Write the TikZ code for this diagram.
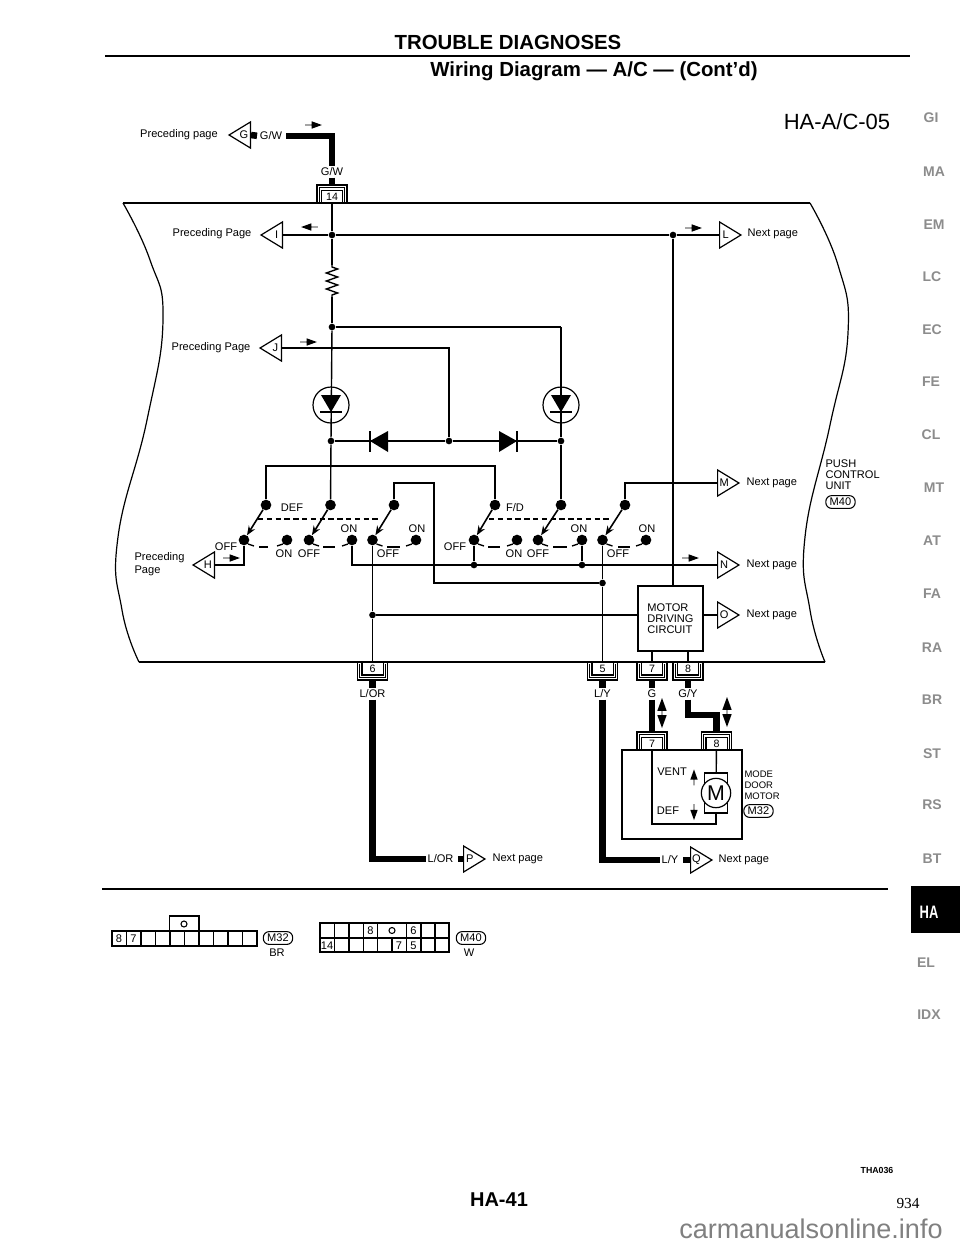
\documentclass[tikz,border=0pt]{standalone}
\usepackage{fontspec}
\usepackage{graphicx}
\setmainfont{Liberation Sans}
\usetikzlibrary{arrows.meta,calc,shapes.geometric,shapes.arrows,decorations.pathmorphing}

\tikzset{
	lbl/.style={font=\fontsize{8.3}{9}\selectfont, inner sep=1pt},
	wire/.style={line width=1.05pt},
	thickwire/.style={line width=4.9pt, line join=miter},
	flag/.style={draw, line width=0.9pt, isosceles triangle, isosceles triangle stretches, isosceles triangle apex angle=70,
		inner sep=0pt, minimum width=19.5pt, minimum height=16pt, font=\fontsize{8.3}{9}\selectfont, anchor=lower side},
	nextflag/.style={flag},
	backflag/.style={flag, shape border rotate=180},
	junction/.style={circle, fill=black, inner sep=0pt, minimum size=5pt},
	contact/.style={circle, fill=black, inner sep=0pt, minimum size=8pt},
	blade/.style={line width=1.2pt, -{Stealth[length=7pt,width=5.5pt]}},
	flowmark/.style={single arrow, fill=black, inner sep=0pt, minimum height=12.5pt, minimum width=5.6pt,
		single arrow head extend=1.7pt, single arrow tip angle=40},
	updown/.style={double arrow, fill=black, inner sep=0pt, rotate=90, minimum height=22.5pt, minimum width=7pt,
		double arrow head extend=2pt, double arrow tip angle=40},
	pinbox/.style={draw, line width=0.8pt, inner sep=0pt, minimum width=15.8pt, minimum height=9.7pt, font=\fontsize{8}{9}\selectfont},
	ovalid/.style={draw, line width=0.8pt, rounded corners=4.4pt, inner sep=0pt, minimum width=22pt, minimum height=9.6pt, font=\fontsize{8.3}{9}\selectfont},
	sidelbl/.style={font=\fontsize{10.5}{11}\bfseries\selectfont, text=black!45, inner sep=0pt},
}

% connector: name, x, y, text, side of the double bracket (1 above, -1 below)
\newcommand{\pinblock}[5]{
	\node (#1)[pinbox] at (#2,#3) {#4};
	\draw[line width=0.8pt, shift={(#2,#3)}, yscale=#5] (-15,6.5) -- (-15,-11.5) -- (15,-11.5) -- (15,6.5);
	\draw[line width=0.8pt, shift={(#2,#3)}, yscale=#5] (-12.8,5) -- (-12.8,-9.2) -- (12.8,-9.2) -- (12.8,5);
}
% diode in a circle
\newcommand{\lampmark}[3]{
	\node (#1)[draw, circle, line width=0.9pt, inner sep=0pt, minimum size=27pt] at (#2,#3) {};
	\fill[shift={(#2,#3)}] (-10,-10) -- (10,-10) -- (0,7) -- cycle;
	\draw[wire, shift={(#2,#3)}] (-11,7) -- (11,7);
}
\newcommand{\offtick}[1]{\draw[wire] (#1) ++(4,4) -- ++(6,2);}
\newcommand{\ontick}[1]{\draw[wire] (#1) ++(-4,4) -- ++(-6,2);}

\begin{document}
\begin{tikzpicture}[x=0.75pt,y=-0.75pt]
	\useasboundingbox (0,0) rectangle (960,1242);

	% page head
	\node (title)[font=\fontsize{15.3}{16}\bfseries\selectfont, inner sep=0pt] at (508,42) {TROUBLE DIAGNOSES};
	\coordinate (ruleL) at (105,56);
	\coordinate (ruleR) at (910,56);
	\draw[line width=2.2pt] (ruleL) -- (ruleR);
	\node (subtitle)[font=\fontsize{15.3}{16}\bfseries\selectfont, inner sep=0pt] at (594,71) {Wiring Diagram — A/C — (Cont'd)};
	\node (code)[font=\fontsize{16.5}{17}\selectfont, inner sep=0pt] at (837,122) {HA-A/C-05};

	% unit outline
	\draw[line width=0.9pt] plot[smooth, tension=0.8] coordinates {(123,203) (150,260) (163,320) (147,420) (118,537) (122,610) (139,662)};
	\draw[line width=0.9pt] plot[smooth, tension=0.8] coordinates {(810,203) (838,265) (848,333) (830,425) (805,537) (810,610) (825,662)};
	\coordinate (frameA) at (123,203);
	\coordinate (frameB) at (810,203);
	\coordinate (frameC) at (139,662);
	\coordinate (frameD) at (825,662);
	\draw[line width=0.9pt] (frameA) -- (frameB);
	\draw[line width=0.9pt] (frameC) -- (frameD);

	% top feed
	\node (lPrecG)[lbl] at (179,135) {Preceding page};
	\node (trG)[backflag] at (251,135) {G};
	\node (lGW)[lbl] at (271,136) {G/W};
	\node (lGWb)[lbl] at (332,172) {G/W};
	\node (flowG)[flowmark] at (313,125) {};
	\pinblock{pin14}{332}{196.5}{14}{1}
	\draw[thickwire, shorten <=2pt] (lGW.east) -| (lGWb.north);
	\draw[thickwire, shorten <=1pt] (lGW.west) -- (trG.lower side);
	\draw[thickwire, shorten >=3.7pt] (lGWb) -- (pin14.north);

	% supply rail
	\node (lPrecI)[lbl] at (212,234) {Preceding Page};
	\node (trI)[backflag] at (283,235) {I};
	\node (flowI)[flowmark, rotate=180] at (310,227) {};
	\node (jI)[junction] at (332,235) {};
	\node (jL)[junction] at (673,235) {};
	\node (flowL)[flowmark] at (693,228) {};
	\node (trL)[nextflag] at (719,235) {L};
	\node (nextL)[lbl, anchor=west] at (746,234) {Next page};
	\draw[wire] (trI.lower side) -- (jI);
	\draw[wire] (jI) -- (jL);
	\draw[wire] (jL) -- (trL.lower side);
	\draw[wire] (pin14) -- (jI);

	% resistor and lamps
	\coordinate (resT) at (332,265);
	\coordinate (resB) at (332,297);
	\node (jR)[junction] at (332,327) {};
	\coordinate (cornerR) at (561,327);
	\draw[wire] (jI) -- (resT);
	\draw[wire, decorate, decoration={zigzag, segment length=6pt, amplitude=4.2pt, pre length=1.5pt, post length=1.5pt}] (resT) -- (resB);
	\draw[wire] (resB) -- (jR);
	\draw[wire] (jR) -- (cornerR);

	\node (lPrecJ)[lbl] at (211,348) {Preceding Page};
	\node (trJ)[backflag] at (282,348) {J};
	\node (flowJ)[flowmark] at (308,342) {};

	\node (jD1)[junction] at (331,441) {};
	\node (jD2)[junction] at (449,441) {};
	\node (jD3)[junction] at (561,441) {};
	\draw[wire] (jR) -- (jD1);
	\draw[wire] (cornerR) -- (jD3);
	\lampmark{lampL}{331}{405}
	\lampmark{lampR}{561}{405}
	\draw[wire] (trJ.lower side) -| (jD2);
	\draw[wire] (jD1) -- (jD2);
	\draw[wire] (jD2) -- (jD3);

	% the two diodes
	\fill (370,441) -- (388,431) -- (388,452) -- cycle;
	\draw[wire] (370,431) -- (370,452);
	\fill (517,441) -- (499,431) -- (499,452) -- cycle;
	\draw[wire] (517,431) -- (517,452);

	% switch contacts, DEF side
	\node (s1)[contact] at (266,505) {};
	\node (s2)[contact] at (330.5,505) {};
	\node (s3)[contact] at (394,505) {};
	\node (off1)[contact] at (244,540) {};
	\node (on1)[contact] at (287,540) {};
	\node (off2)[contact] at (309,540) {};
	\node (on2)[contact] at (352,540) {};
	\node (off3)[contact] at (372.5,540) {};
	\node (on3)[contact] at (416,540) {};
	% switch contacts, F/D side
	\node (s4)[contact] at (495,505) {};
	\node (s5)[contact] at (561,505) {};
	\node (s6)[contact] at (625,505) {};
	\node (off4)[contact] at (474,540) {};
	\node (on4)[contact] at (517,540) {};
	\node (off5)[contact] at (538,540) {};
	\node (on5)[contact] at (582,540) {};
	\node (off6)[contact] at (602.5,540) {};
	\node (on6)[contact] at (646,540) {};

	\draw[blade] (s1) -- (off1);
	\draw[blade] (s2) -- (off2);
	\draw[blade] (s3) -- (off3);
	\draw[blade] (s4) -- (off4);
	\draw[blade] (s5) -- (off5);
	\draw[blade] (s6) -- (off6);

	\offtick{off1} \offtick{off2} \offtick{off3} \offtick{off4} \offtick{off5} \offtick{off6}
	\ontick{on1} \ontick{on2} \ontick{on3} \ontick{on4} \ontick{on5} \ontick{on6}

	% linkage of the switches
	\coordinate (linkA) at (258,519);
	\coordinate (linkB) at (380,519);
	\coordinate (linkC) at (489,519);
	\coordinate (linkD) at (612,519);
	\draw[wire, dashed, dash pattern=on 4pt off 2.6pt] (linkA) -- (linkB);
	\draw[wire, dashed, dash pattern=on 4pt off 2.6pt] (linkC) -- (linkD);
	\draw[wire] (259,547) -- (268,547) (323,547) -- (335,547) (387,547) -- (400,547)
		(488,547) -- (500,547) (553,547) -- (567,547) (618,547) -- (630,547);

	% wires between contacts
	\coordinate (topA) at (266,466);
	\coordinate (topB) at (495,466);
	\coordinate (loopA) at (434,483);
	\draw[wire] (s1) -- (topA) -- (topB) -- (s4);
	\draw[wire] (s2) -- (jD1);
	\draw[wire] (s5) -- (jD3);
	\node (j603)[junction] at (602.5,583) {};
	\draw[wire] (s3) |- (loopA) |- (j603);

	\node (lPrecH)[lbl, align=left, anchor=west, font=\fontsize{8.3}{9.4}\selectfont] at (133,564) {Preceding\\Page};
	\node (trH)[backflag] at (215,565) {H};
	\node (flowH)[flowmark] at (231,558) {};
	\draw[wire] (off1) |- (trH.lower side);

	\node (trM)[nextflag] at (717,483) {M};
	\node (nextM)[lbl, anchor=west] at (745,483) {Next page};
	\draw[wire] (s6) |- (trM.lower side);

	\node (trN)[nextflag] at (717,565) {N};
	\node (nextN)[lbl, anchor=west] at (745,565) {Next page};
	\node (flowN)[flowmark] at (690,558) {};
	\node (j474)[junction] at (474,565) {};
	\node (j582)[junction] at (582,565) {};
	\draw[wire] (on2) |- (trN.lower side);
	\draw[wire] (off4) -- (j474);
	\draw[wire] (on5) -- (j582);

	% motor driving circuit
	\node (mdc)[draw, line width=0.9pt, minimum width=48.75pt, minimum height=48.75pt, align=left, font=\fontsize{8.3}{8.3}\selectfont, inner sep=0pt] at (670.5,618.5) {MOTOR\\DRIVING\\CIRCUIT};
	\node (trO)[nextflag] at (717,615) {O};
	\node (nextO)[lbl, anchor=west] at (745,615) {Next page};
	\node (jP)[junction] at (372.5,615) {};
	\draw[wire] (jL) -- (jL |- mdc.north);
	\draw[wire] (jP) -- (jP -| mdc.west);
	\draw[wire] (trO.lower side) -- (trO.lower side -| mdc.east);

	\node (pushu)[lbl, align=left, anchor=west, font=\fontsize{8.3}{8.3}\selectfont] at (824,475) {PUSH\\CONTROL\\UNIT};
	\node (idM40a)[ovalid] at (840.5,502) {M40};

	% labels of the switches
	\node (lDEF)[lbl] at (292,508) {DEF};
	\node (lFD)[lbl] at (515,508) {F/D};
	\node (lOFFa)[lbl] at (226,547) {OFF};
	\node (lONa)[lbl] at (284,554) {ON};
	\node (lOFFb)[lbl] at (309,554) {OFF};
	\node (lONb)[lbl] at (349,529) {ON};
	\node (lOFFc)[lbl] at (388,554) {OFF};
	\node (lONc)[lbl] at (417,529) {ON};
	\node (lOFFd)[lbl] at (455,547) {OFF};
	\node (lONd)[lbl] at (514,554) {ON};
	\node (lOFFe)[lbl] at (538,554) {OFF};
	\node (lONe)[lbl] at (579,529) {ON};
	\node (lOFFf)[lbl] at (618,554) {OFF};
	\node (lONf)[lbl] at (647,529) {ON};

	% harness connectors of the unit
	\pinblock{pin6}{372.5}{668.5}{6}{-1}
	\pinblock{pin5}{602.5}{668.5}{5}{-1}
	\pinblock{pin7}{652}{668.5}{7}{-1}
	\pinblock{pin8}{688}{668.5}{8}{-1}
	\draw[wire] (off3) -- (jP);
	\draw[wire] (jP) -- (pin6);
	\draw[wire] (off6) -- (j603);
	\draw[wire] (j603) -- (pin5);
	\draw[wire] (pin7) -- (pin7 |- mdc.south);
	\draw[wire] (pin8) -- (pin8 |- mdc.south);

	\node (lLOR)[lbl] at (372.5,694) {L/OR};
	\node (lLY)[lbl] at (602.5,694) {L/Y};
	\node (lG)[lbl] at (652,694) {G};
	\node (lGY)[lbl] at (688,694) {G/Y};
	\draw[thickwire, shorten <=3.7pt] (pin6.south) -- (lLOR);
	\draw[thickwire, shorten <=3.7pt] (pin5.south) -- (lLY);
	\draw[thickwire, shorten <=3.7pt] (pin7.south) -- (lG);
	\draw[thickwire, shorten <=3.7pt] (pin8.south) -- (lGY);

	% harness to next page
	\node (tLOR)[lbl, anchor=west] at (426,859) {L/OR};
	\node (trP)[nextflag] at (463,859) {P};
	\node (nextP)[lbl, anchor=west] at (491,859) {Next page};
	\draw[thickwire] (lLOR) |- (tLOR);
	\draw[thickwire, shorten <=2.5pt] (tLOR.east) -- (trP.lower side);
	\node (tLY)[lbl, anchor=west] at (660,860) {L/Y};
	\node (trQ)[nextflag] at (690,860) {Q};
	\node (nextQ)[lbl, anchor=west] at (717,860) {Next page};
	\draw[thickwire] (lLY) |- (tLY);
	\draw[thickwire, shorten <=2.5pt] (tLY.east) -- (trQ.lower side);

	% mode door motor
	\pinblock{pinB7}{652}{743.5}{7}{1}
	\pinblock{pinB8}{716.5}{743.5}{8}{1}
	\coordinate (gyA) at (688,715);
	\coordinate (gyB) at (716.5,715);
	\draw[thickwire, shorten >=3pt] (lG) -- (pinB7.north);
	\draw[thickwire, shorten >=3pt] (lGY) -- (gyA) -- (gyB) -- (pinB8.north);
	\node (flowGa)[updown] at (662,713) {};
	\node (flowGb)[updown] at (727,712) {};

	\node (motorbox)[draw, line width=0.9pt, minimum width=90pt, minimum height=66.75pt, inner sep=0pt] at (682,794.5) {};
	\node (mRect)[draw, line width=0.9pt, minimum width=17pt, minimum height=30pt, inner sep=0pt] at (716,793) {};
	\node (mCirc)[draw, circle, line width=0.9pt, fill=white, minimum size=22pt, inner sep=0pt, font=\fontsize{16}{17}\selectfont] at (716,793) {M};
	\coordinate (mcR) at (716,824);
	\coordinate (mcL) at (652,824);
	\draw[wire] (pinB8) -- (mRect);
	\draw[wire] (mRect) -- (mcR) -- (mcL) -- (pinB7);

	\node (lVENT)[lbl] at (672,772) {VENT};
	\node (lDEFm)[lbl] at (668,811) {DEF};
	\node (flowV)[flowmark, rotate=90, minimum height=12pt] at (694,778) {};
	\node (flowD)[flowmark, rotate=-90, minimum height=12pt] at (694,811.5) {};
	\node (modelbl)[lbl, align=left, anchor=west, font=\fontsize{7.1}{8.2}\selectfont] at (743,785) {MODE\\DOOR\\MOTOR};
	\node (idM32a)[ovalid] at (758.5,811) {M32};

	\coordinate (sepL) at (102,889);
	\coordinate (sepR) at (888,889);
	\draw[line width=1.1pt] (sepL) -- (sepR);

	% connector M32
	\draw[line width=0.8pt] (112,931) rectangle (257,946);
	\draw[line width=0.8pt] (126.5,931) -- (126.5,946) (141,931) -- (141,946) (155.5,931) -- (155.5,946) (170,931) -- (170,946) (184.5,931) -- (184.5,946)
		(199,931) -- (199,946) (213.5,931) -- (213.5,946) (228,931) -- (228,946) (242.5,931) -- (242.5,946);
	\draw[line width=0.8pt] (169.5,931) -- (169.5,916) -- (199,916) -- (199,931);
	\node (tabA)[draw, circle, line width=0.8pt, minimum size=4.5pt, inner sep=0pt] at (184,924) {};
	\node (c8)[lbl] at (119,938.5) {8};
	\node (c7)[lbl] at (133.5,938.5) {7};
	\node (idM32b)[ovalid] at (278,938) {M32};
	\node (lBR)[lbl] at (277,953) {BR};

	% connector M40
	\draw[line width=0.8pt] (320,923) rectangle (449,952);
	\draw[line width=0.8pt] (320,938) -- (449,938);
	\draw[line width=0.8pt] (334.3,923) -- (334.3,952) (349,923) -- (349,952) (363.3,923) -- (363.3,952) (377.7,923) -- (377.7,952)
		(392,938) -- (392,952) (406.7,923) -- (406.7,952) (421,923) -- (421,952) (435,923) -- (435,952);
	\node (tabB)[draw, circle, line width=0.8pt, minimum size=4.5pt, inner sep=0pt] at (392,930.5) {};
	\node (d8)[lbl] at (370.5,930.5) {8};
	\node (d6)[lbl] at (413.5,930.5) {6};
	\node (d14)[lbl] at (327,945.5) {14};
	\node (d7)[lbl] at (399,945.5) {7};
	\node (d5)[lbl] at (413.5,945.5) {5};
	\node (idM40b)[ovalid] at (471,938) {M40};
	\node (lW)[lbl] at (469,953) {W};

	% section index
	\node (sGI)[sidelbl] at (931,118) {GI};
	\node (sMA)[sidelbl] at (934,172) {MA};
	\node (sEM)[sidelbl] at (934,225) {EM};
	\node (sLC)[sidelbl] at (932,277) {LC};
	\node (sEC)[sidelbl] at (932,330) {EC};
	\node (sFE)[sidelbl] at (931,382) {FE};
	\node (sCL)[sidelbl] at (931,435) {CL};
	\node (sMT)[sidelbl] at (934,488) {MT};
	\node (sAT)[sidelbl] at (932,541) {AT};
	\node (sFA)[sidelbl] at (932,594) {FA};
	\node (sRA)[sidelbl] at (932,648) {RA};
	\node (sBR)[sidelbl] at (932,700) {BR};
	\node (sST)[sidelbl] at (932,754) {ST};
	\node (sRS)[sidelbl] at (932,805) {RS};
	\node (sBT)[sidelbl] at (932,859) {BT};
	\fill (911,886) rectangle (960,933);
	\node (sHA)[font=\fontsize{13.5}{14}\bfseries\selectfont, text=white, inner sep=0pt] at (929,912) {\scalebox{0.72}[1]{HA}};
	\node (sEL)[sidelbl] at (926,963) {EL};
	\node (sIDX)[sidelbl] at (929,1015) {IDX};

	% page foot
	\node (figno)[font=\fontsize{6.6}{7}\bfseries\selectfont, inner sep=0pt] at (877,1170) {THA036};
	\node (pageno)[font=\fontsize{15}{16}\bfseries\selectfont, inner sep=0pt] at (499,1200) {HA-41};
	\node (sheet)[font=\fontsize{11.5}{12}\selectfont, inner sep=0pt] at (908,1203) {\fontspec{Liberation Serif}934};
	\node (mark)[font=\fontsize{20.3}{21}\selectfont, text=black!50, inner sep=0pt] at (811,1229) {carmanualsonline.info};
\end{tikzpicture}
\end{document}
